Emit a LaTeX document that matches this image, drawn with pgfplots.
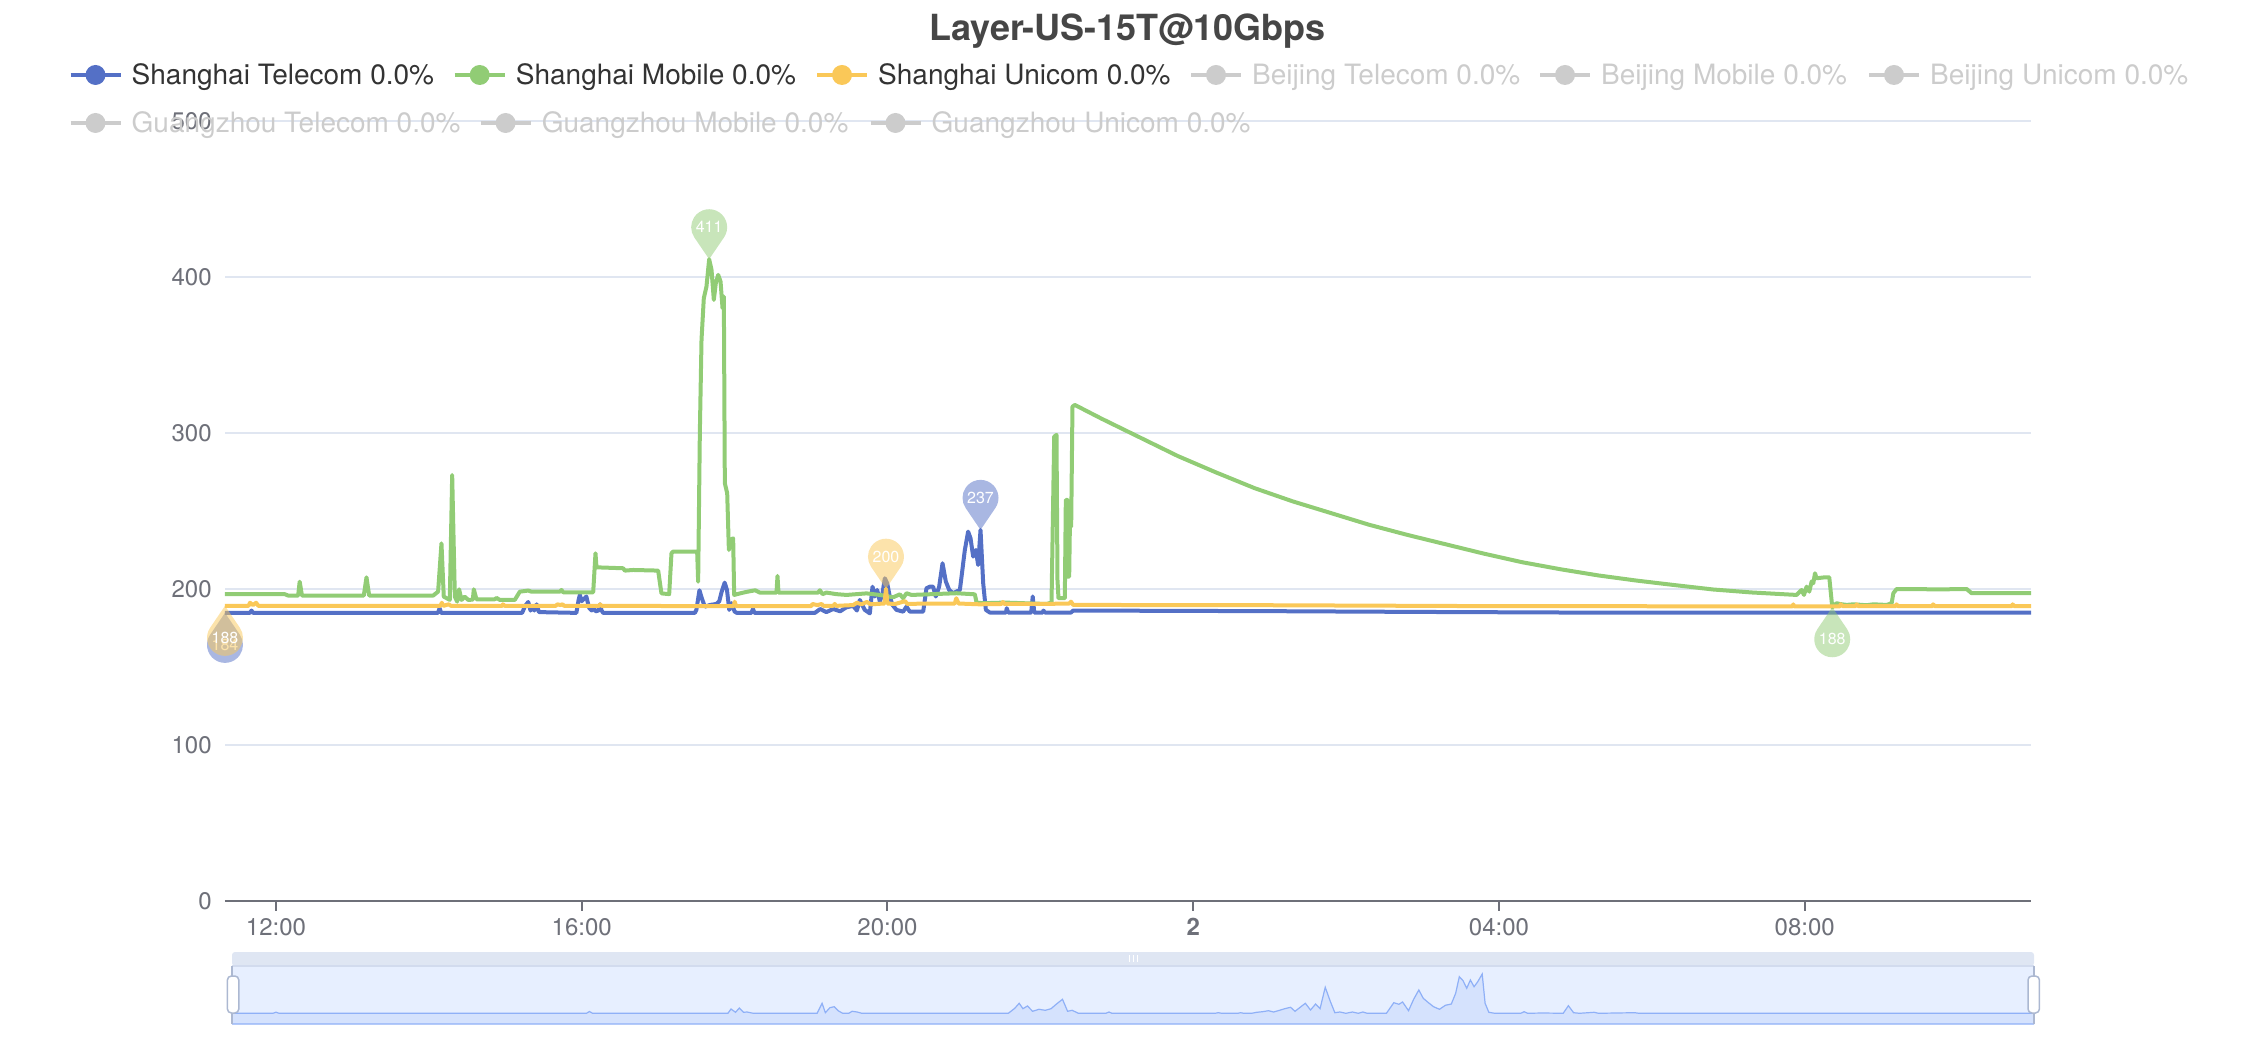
\documentclass[border=0pt]{standalone}
\usepackage{fontspec}
\setmainfont{TeX Gyre Heros}
\usepackage{pgfplots}
\pgfplotsset{compat=1.18}

\definecolor{blueC}{HTML}{5470C6}
\definecolor{greenC}{HTML}{91CC75}
\definecolor{yellowC}{HTML}{FAC858}
\definecolor{grayC}{HTML}{CCCCCC}
\definecolor{textC}{HTML}{333333}
\definecolor{titleC}{HTML}{464646}
\definecolor{axisC}{HTML}{6E7079}
\definecolor{gridC}{HTML}{E0E6F1}
\definecolor{fillerC}{HTML}{E7EFFF}
\definecolor{moveC}{HTML}{DFE6F3}
\definecolor{borderC}{HTML}{D2DBEE}
\definecolor{handleC}{HTML}{ACB8D1}
\definecolor{shadowLine}{HTML}{8FB0F7}
\definecolor{shadowFill}{HTML}{D5E2FD}

% echarts style map pins, tip at the data point
\pgfdeclareplotmark{pindown}{%
  \pgfpathmoveto{\pgfpointorigin}%
  \pgfpathlineto{\pgfpoint{7.44pt}{10.94pt}}%
  \pgfpatharc{-34.23}{214.23}{9pt}%
  \pgfpathclose
  \pgfusepathqfill}
\pgfdeclareplotmark{pinup}{%
  \pgfpathmoveto{\pgfpointorigin}%
  \pgfpathlineto{\pgfpoint{-7.44pt}{-10.94pt}}%
  \pgfpatharc{145.77}{394.23}{9pt}%
  \pgfpathclose
  \pgfusepathqfill}

\pgfplotsset{
  pin/.style 2 args={only marks, mark=#1, color=#2, fill opacity=0.5,
    point meta=explicit symbolic, nodes near coords={\pgfplotspointmeta}},
  pinlabel/.style={nodes near coords style={anchor=center, yshift=#1,
    inner sep=0pt, text=white, text opacity=1, fill opacity=1,
    font=\fontsize{8}{9}\selectfont}},
}

\newcommand{\legitem}[4]{% x, icon y, colour, text
  \draw[#3, line width=2pt] (#1pt,#2pt) -- ++(25pt,0pt);
  \fill[#3] (#1pt+12.5pt,#2pt) circle (5pt);
  \node[anchor=base west, inner sep=0pt, text=#3, font=\fontsize{14}{16}\selectfont]
    at (#1pt+30.4pt,#2pt-5pt) {#4};}

\begin{document}
\begin{tikzpicture}
\path[use as bounding box] (0,0) rectangle (1128pt,520pt);

% title
\node[anchor=base, inner sep=0pt, text=titleC, font=\fontsize{18}{20}\selectfont\bfseries]
  at (563.75pt,499.6pt) {Layer-US-15T@10Gbps};

% legend
\legitem{35.25}{482.5}{blueC}{\textcolor{textC}{Shanghai Telecom 0.0\%}}
\legitem{227.35}{482.5}{greenC}{\textcolor{textC}{Shanghai Mobile 0.0\%}}
\legitem{408.5}{482.5}{yellowC}{\textcolor{textC}{Shanghai Unicom 0.0\%}}
\legitem{595.5}{482.5}{grayC}{Beijing Telecom 0.0\%}
\legitem{770}{482.5}{grayC}{Beijing Mobile 0.0\%}
\legitem{934.5}{482.5}{grayC}{Beijing Unicom 0.0\%}

\begin{axis}[
  at={(112.5pt,69.65pt)}, anchor=south west,
  scale only axis, width=903pt, height=390pt,
  xmin=11.333, xmax=34.96, ymin=0, ymax=500,
  axis x line*=bottom, axis y line*=left,
  y axis line style={draw=none},
  x axis line style={draw=axisC, line width=1pt},
  ytick={0,100,200,300,400,500},
  yticklabels={0,100,200,300,400,500},
  ymajorgrids, grid style={draw=gridC, line width=1pt},
  xtick={12,16,20,24,28,32},
  xticklabels={12:00,16:00,20:00,\textbf{2},04:00,08:00},
  tick align=outside, major tick length=5pt,
  xtick style={draw=axisC, line width=1pt},
  ytick style={draw=none},
  ticklabel style={font=\fontsize{12}{14}\selectfont, text=axisC},
  yticklabel style={anchor=east, inner sep=0pt, xshift=-1.5pt},
  xticklabel style={anchor=north, inner sep=0pt, yshift=-3.5pt},
  clip=false,
  every axis plot/.append style={line width=2pt, line join=round},
]
% Shanghai Telecom
\addplot[blueC, mark=none] coordinates {
(11.333,184.5) (11.66,184.5) (11.68,186) (11.70,184.5) (14.12,184.5) (14.14,187.5) (14.16,184.5)
(15.22,184.5) (15.26,189) (15.30,191.5) (15.33,186) (15.36,188.5) (15.38,186) (15.41,190) (15.44,185)
(15.93,184.5) (15.96,193) (15.975,196) (16.00,192) (16.02,193) (16.06,195) (16.09,189) (16.10,187.5)
(16.13,186) (16.15,188.5) (16.18,185.5) (16.22,186) (16.24,190) (16.26,186) (16.28,184.5)
(17.48,184.5) (17.50,186.4) (17.54,199) (17.57,194) (17.61,188.5) (17.68,189.6) (17.76,190.2)
(17.80,192) (17.83,198) (17.87,203.9) (17.90,199.2) (17.93,186.4) (17.96,190.7) (18.00,185.3)
(18.03,184.5) (18.22,184.5) (18.24,187) (18.26,184.5) (19.05,184.5) (19.12,187) (19.20,185)
(19.29,187) (19.38,185.5) (19.46,188) (19.55,189) (19.60,186) (19.638,192.8) (19.703,186.4)
(19.769,184.2) (19.804,201.3) (19.834,195) (19.865,199.2) (19.90,191.7) (19.935,197.1) (19.965,206.7)
(19.996,203.5) (20.03,195) (20.065,189.6) (20.118,186.4) (20.205,185.3) (20.249,188.5) (20.292,185.3)
(20.467,185.3) (20.51,200.3) (20.554,201.3) (20.597,201.3) (20.632,195) (20.676,201.3) (20.72,216.3)
(20.763,204.6) (20.807,199.2) (20.859,197.1) (20.947,199.2) (21.012,224.8) (21.055,236.6)
(21.086,232.4) (21.121,220.6) (21.156,224.8) (21.186,215.2) (21.217,237.7) (21.252,203.5)
(21.287,186.4) (21.339,184.7) (21.55,184.7) (21.56,187.5) (21.58,184.7) (21.88,184.7) (21.90,195)
(21.92,184.7) (22.03,184.7) (22.04,186) (22.06,184.7) (22.40,184.7) (22.43,186) (25.0,185.6)
(27.0,185.1) (29.0,184.7) (34.96,184.7)
};
% Shanghai Mobile
\addplot[greenC, mark=none] coordinates {
(11.333,196.5) (12.115,196.5) (12.159,195.6) (12.29,195.6) (12.31,204.5) (12.34,195.6) (13.149,195.6)
(13.184,207.3) (13.219,195.6) (14.056,195.6) (14.121,198.1) (14.165,229.1) (14.195,194.9) (14.274,192.8)
(14.305,272.9) (14.34,194.9) (14.37,191.7) (14.396,199.6) (14.427,192.8) (14.47,194.9) (14.514,192.8)
(14.575,193) (14.588,199.6) (14.623,193.2) (14.863,193.2) (14.885,194.1) (14.928,192.8) (15.124,192.8)
(15.19,198.1) (15.299,198.8) (15.342,198.1) (15.713,198.1) (15.735,199.2) (15.757,197.7) (16.15,197.7)
(16.18,222.7) (16.193,213.7) (16.542,213.1) (16.564,211.6) (16.673,212) (17.0,211.6) (17.03,201.3)
(17.043,197) (17.144,196.5) (17.174,222.7) (17.196,223.8) (17.51,223.8) (17.523,204.5) (17.545,299.6)
(17.567,359.5) (17.597,386.2) (17.632,393.7) (17.667,411.2) (17.698,404.4) (17.728,385.1) (17.754,395.8)
(17.785,401.2) (17.816,396.9) (17.842,379.8) (17.859,387.3) (17.872,267.6) (17.903,261.2) (17.925,224.8)
(17.946,231.3) (17.981,232.3) (17.994,196) (18.07,197) (18.16,198) (18.27,199) (18.33,197.5)
(18.548,197.5) (18.561,208.2) (18.574,197.5) (19.093,197.5) (19.115,199) (19.15,196.5) (19.202,197.5)
(19.333,196.5) (19.464,196) (19.726,197) (19.9,196) (20.074,194.5) (20.162,196.4) (20.205,193.9)
(20.249,197.1) (20.314,196) (20.903,197.1) (21.143,196.4) (21.165,191.1) (21.252,190.7) (21.536,191.1)
(22.081,190.2) (22.146,191.1) (22.181,297.5) (22.211,298.6) (22.224,205.6) (22.237,193.9) (22.32,193.9)
(22.333,256.9) (22.351,256.9) (22.355,207.7) (22.377,207.7) (22.386,239.8) (22.403,239.8) (22.42,316.7)
(22.451,317.8) (22.8,309) (23.3,297) (23.8,285) (24.3,274.5) (24.8,264.5) (25.3,256) (25.8,248.5)
(26.3,241) (26.8,234.5) (27.3,228.5) (27.8,222.5) (28.3,217) (28.8,212.5) (29.3,208.5) (29.8,205.2)
(30.3,202.3) (30.8,199.5) (31.3,197.6) (31.894,196) (31.915,197.1) (31.959,199.2) (31.99,196) (32.024,201.3)
(32.059,198.1) (32.09,204.6) (32.112,203.5) (32.134,209.9) (32.155,206.7) (32.264,207.3) (32.321,207.3)
(32.36,188.1) (32.417,190.7) (32.46,190.2) (32.548,189.6) (32.635,190) (32.81,189.4) (32.897,190)
(33.071,189.6) (33.137,190.7) (33.159,197.1) (33.202,199.8) (33.507,199.8) (33.682,199.5) (34.118,199.8)
(34.183,197.1) (34.96,197.1)
};
% Shanghai Unicom
\addplot[yellowC, mark=none] coordinates {
(11.333,189) (11.64,189) (11.66,191) (11.70,189.5) (11.74,191) (11.77,189) (14.15,189) (14.17,191)
(14.19,189) (14.26,190) (14.29,189) (14.96,189) (14.97,190) (14.99,189) (15.66,189) (15.68,190)
(15.72,189.5) (15.75,190) (15.77,189) (16.23,189) (16.24,190) (16.26,189) (17.99,188.8) (18.00,191.7)
(18.02,188.8) (19.00,188.8) (19.02,190.2) (19.08,189.5) (19.14,190.2) (19.16,189) (19.29,189)
(19.31,190.2) (19.33,189) (19.55,189.5) (19.60,191) (19.66,190) (19.73,191.5) (19.78,190) (19.96,190.5)
(19.98,200) (20.00,190.5) (20.10,190.2) (20.23,192) (20.26,190.2) (20.5,190.5) (20.88,190.5)
(20.90,193.9) (20.93,190.5) (21.2,190) (21.49,190.2) (21.51,191.5) (21.53,190.2) (22.0,190.2)
(22.38,190.5) (22.40,191.7) (22.43,189.6) (25.0,189.4) (28.0,188.8) (31.84,188.7) (31.85,190)
(31.86,188.7) (32.46,188.7) (32.47,190) (32.5,188.8) (32.66,188.8) (32.68,190) (32.7,188.8)
(33.19,188.8) (33.2,190) (33.22,188.8) (33.67,188.8) (33.68,190) (33.70,188.8) (34.71,188.8)
(34.72,190) (34.74,188.8) (34.96,188.8)
};
% max / min pins
\addplot[pin={pindown}{blueC}, pinlabel=16pt] coordinates {(21.217,237.7) [237]};
\addplot[pin={pinup}{blueC}, pinlabel=-16pt] coordinates {(11.333,184.5) [184]};
\addplot[pin={pindown}{greenC}, pinlabel=16pt] coordinates {(17.667,411.2) [411]};
\addplot[pin={pinup}{greenC}, pinlabel=-16pt] coordinates {(32.36,188.1) [188]};
\addplot[pin={pindown}{yellowC}, pinlabel=16pt] coordinates {(19.98,200) [200]};
\addplot[pin={pinup}{yellowC}, pinlabel=-16pt] coordinates {(11.333,189) [188]};
\end{axis}

% second legend row drawn over the top grid line
\legitem{35.25}{458.5}{grayC}{Guangzhou Telecom 0.0\%}
\legitem{240.3}{458.5}{grayC}{Guangzhou Mobile 0.0\%}
\legitem{435.25}{458.5}{grayC}{Guangzhou Unicom 0.0\%}

% data zoom slider
\fill[moveC, rounded corners=1.5pt] (116pt,37pt) rectangle (1017pt,44pt);
\begin{axis}[
  at={(116pt,8pt)}, anchor=south west,
  scale only axis, width=901pt, height=29pt,
  xmin=11.333, xmax=34.96, ymin=0, ymax=58,
  hide axis,
]
\fill[fillerC] (rel axis cs:0,0) rectangle (rel axis cs:1,1);
\addplot[draw=shadowLine, line width=0.6pt, fill=shadowFill] coordinates {
(11.333,10.7) (11.87,10.7) (11.91,11.8) (11.95,10.7) (15.98,10.7) (16.02,12.5) (16.06,10.7)
(17.835,10.7) (17.876,15) (17.935,11.7) (17.985,16) (18.04,11.7) (18.085,12) (18.13,11.3) (18.17,10.7)
(19.005,10.7) (19.07,20.7) (19.113,11.3) (19.172,16.3) (19.23,17.3) (19.28,13.3) (19.34,10.7)
(19.42,10.7) (19.464,12.7) (19.53,12) (19.59,10.7)
(21.512,10.7) (21.596,15.7) (21.654,20.7) (21.704,15.3) (21.763,18) (21.83,12.7) (21.913,14.7)
(21.997,13.7) (22.072,15.3) (22.139,19.7) (22.222,24.7) (22.289,12.7) (22.348,13.7) (22.431,10.7)
(22.79,10.7) (22.832,12) (22.87,10.7) (24.22,10.7) (24.266,11.3) (24.31,10.7) (24.52,10.7) (24.556,11.3)
(24.60,10.7) (24.701,10.7) (24.769,11.7) (24.846,12.3) (24.923,13.3) (24.99,12) (25.068,13.7)
(25.136,15.3) (25.213,16.7) (25.271,12.7) (25.348,17.3) (25.406,20.7) (25.474,14) (25.541,20)
(25.599,15.3) (25.667,36.7) (25.735,22.3) (25.793,11.3) (25.86,12) (25.937,10.7) (26.024,12)
(26.1,10.7) (26.16,12) (26.218,10.7) (26.469,10.7) (26.566,21.3) (26.633,19.7) (26.681,22)
(26.759,13.3) (26.826,24.7) (26.894,34) (26.952,25.7) (27.02,21.3) (27.087,17.3) (27.165,14.7)
(27.242,18.7) (27.32,20) (27.377,30.7) (27.425,47.3) (27.474,43.3) (27.522,35.7) (27.57,44)
(27.618,37.3) (27.667,42.3) (27.725,50) (27.763,20.7) (27.812,11.7) (27.889,10.7) (28.23,10.7)
(28.275,12.3) (28.32,10.7) (28.517,11) (28.787,10.7) (28.855,18.3) (28.923,11.3) (29.0,10.7)
(29.193,11.7) (29.25,10.7) (29.725,11.3) (29.78,10.7) (34.96,10.7)
} \closedcycle;
\end{axis}
\draw[borderC, line width=0.6pt] (116pt,37pt) -- (1017pt,37pt);
\draw[handleC, line width=0.6pt] (116pt,8pt) -- (116pt,37pt);
\draw[handleC, line width=0.6pt] (1017pt,8pt) -- (1017pt,37pt);
\filldraw[fill=white, draw=handleC, line width=0.75pt, rounded corners=2pt]
  (113.7pt,13.5pt) rectangle (119.4pt,32pt);
\filldraw[fill=white, draw=handleC, line width=0.75pt, rounded corners=2pt]
  (1014pt,13.5pt) rectangle (1019.7pt,32pt);
\foreach \gx in {564.75,566.75,568.75}
  \draw[white, line width=0.6pt] (\gx pt,39pt) -- (\gx pt,42.5pt);
\end{tikzpicture}
\end{document}
